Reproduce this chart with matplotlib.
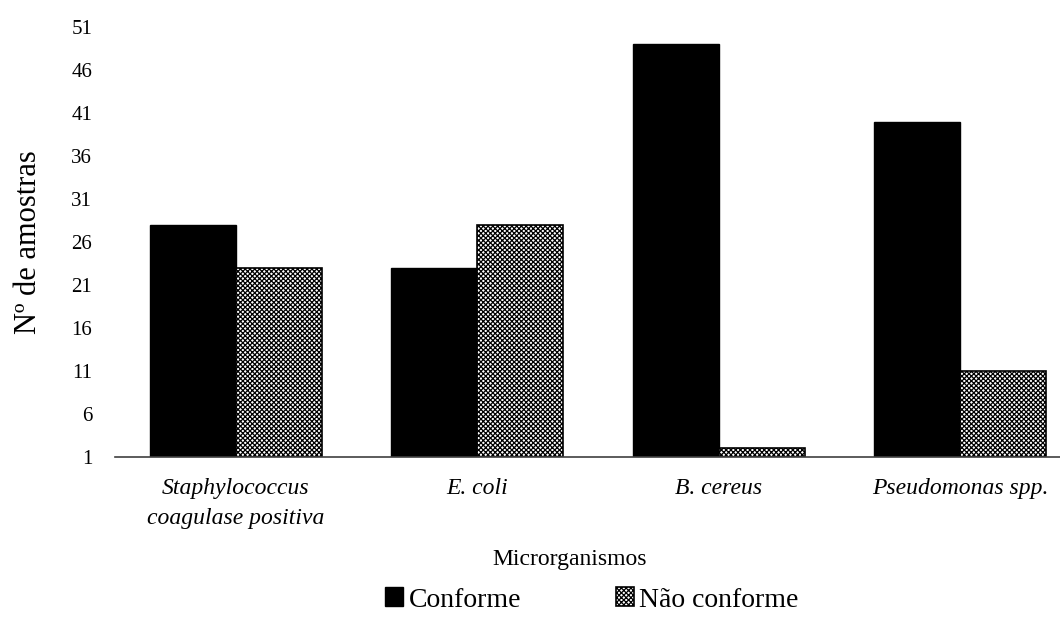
import numpy as np
import matplotlib
matplotlib.use("Agg")
import matplotlib.pyplot as plt

plt.rcParams['font.family'] = ['Liberation Serif', 'DejaVu Serif']
plt.rcParams['hatch.linewidth'] = 0.9

# data
categorias = ["Staphylococcus\ncoagulase positiva", "E. coli", "B. cereus", "Pseudomonas spp."]
conforme = [28, 23, 49, 40]
nao_conforme = [23, 28, 2, 11]
yticks = list(range(1, 52, 5))

fig = plt.figure(figsize=(10.6, 6.28), dpi=100)
ax = fig.add_axes([115 / 1060, 171 / 628, 966 / 1060, 430 / 628])

x = np.arange(len(categorias))
w = 0.356
base = 1
ax.bar(x - w / 2, np.array(conforme) - base, w, bottom=base, color='black',
       edgecolor='black', linewidth=1, label='Conforme')
ax.bar(x + w / 2, np.array(nao_conforme) - base, w, bottom=base, color='white',
       edgecolor='black', linewidth=1.2, hatch='xxxxxxx', label='Não conforme')

ax.set_xlim(-0.5, len(categorias) - 0.5)
ax.set_ylim(1, 51)
ax.set_yticks(yticks)
ax.set_xticks(x)
ax.set_xticklabels(categorias, fontstyle='italic', fontsize=17, linespacing=1.6)
ax.tick_params(axis='y', length=0, labelsize=15, pad=16.5)
ax.tick_params(axis='x', length=0, pad=15)

for s in ['top', 'right', 'left']:
    ax.spines[s].set_visible(False)
ax.spines['bottom'].set_linewidth(1.2)
ax.spines['bottom'].set_color('#404040')

ax.set_ylabel("Nº de amostras", fontsize=22)
ax.yaxis.set_label_coords((43 - 115) / 966, 0.5)
fig.text(570 / 1060, 1 - 560 / 628, "Microrganismos", fontsize=17,
         ha='center', va='center')

fig.legend(loc='center', bbox_to_anchor=(592 / 1060, 1 - 600 / 628), ncol=2,
           frameon=False, fontsize=20, handlelength=0.65, handleheight=0.65,
           handletextpad=0.2, columnspacing=3.4)

fig.savefig("out.png", dpi=100)
